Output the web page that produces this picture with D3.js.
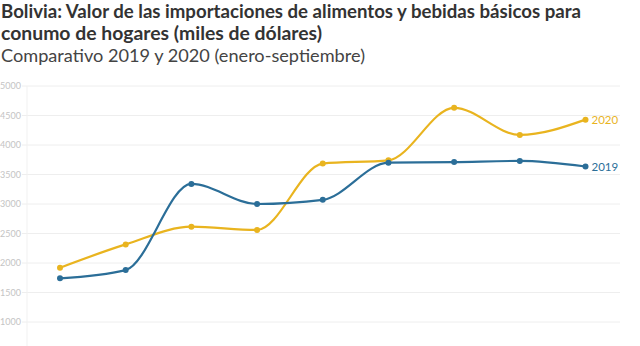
<!DOCTYPE html>
<html>
<head>
<meta charset="utf-8">
<script src="https://cdn.jsdelivr.net/npm/d3@7"></script>
<style>
  body { margin: 0; background: #fff; font-family: "Source Sans Pro", Lato, "Noto Sans", sans-serif; }
  #chart { width: 640px; height: 346px; overflow: hidden; }
</style>
</head>
<body>
<div id="chart"></div>
<script>
var months = ["ene", "feb", "mar", "abr", "may", "jun", "jul", "ago", "sep"]
var values2019 = [1740, 1880, 3340, 3000, 3070, 3700, 3710, 3730, 3635]
var values2020 = [1920, 2315, 2615, 2560, 3685, 3740, 4630, 4170, 4430]
var yTicks = [1000, 1500, 2000, 2500, 3000, 3500, 4000, 4500, 5000]

var width = 640, height = 346

var svg = d3.select("#chart").append("svg")
    .attr("width", width)
    .attr("height", height)

// titles
svg.append("text").attr("x", 1).attr("y", 18)
    .attr("font-size", 18.5).attr("font-weight", 700).attr("fill", "#333")
    .attr("textLength", 580).attr("lengthAdjust", "spacingAndGlyphs")
    .text("Bolivia: Valor de las importaciones de alimentos y bebidas básicos para")
svg.append("text").attr("x", 1).attr("y", 40)
    .attr("font-size", 18.5).attr("font-weight", 700).attr("fill", "#333")
    .attr("textLength", 321).attr("lengthAdjust", "spacingAndGlyphs")
    .text("conumo de hogares (miles de dólares)")
svg.append("text").attr("x", 1).attr("y", 62)
    .attr("font-size", 17.5).attr("fill", "#444")
    .attr("textLength", 364).attr("lengthAdjust", "spacingAndGlyphs")
    .text("Comparativo 2019 y 2020 (enero-septiembre)")

var x = d3.scalePoint()
    .domain(months)
    .range([60, 585.5])

var y = d3.scaleLinear()
    .domain([1000, 5000])
    .range([322, 86])

// grid
var grid = svg.append("g")
grid.selectAll("line").data(yTicks).enter().append("line")
    .attr("x1", 22).attr("x2", 620)
    .attr("y1", function(d){ return y(d) }).attr("y2", function(d){ return y(d) })
    .attr("stroke", "#eee").attr("stroke-width", 1)
grid.append("line")
    .attr("x1", 27).attr("x2", 27).attr("y1", 86).attr("y2", height)
    .attr("stroke", "#f1f1f1")

var yAxis = svg.append("g")
    .attr("transform", "translate(21,0)")
    .call(d3.axisLeft(y).tickValues(yTicks).tickFormat(d3.format("d")).tickSize(0).tickPadding(0))
yAxis.select(".domain").remove()
yAxis.selectAll("text")
    .attr("fill", "#c4c4c4").attr("font-size", 9)
    .attr("font-family", "\"Source Sans Pro\", Lato, sans-serif")

var line = d3.line()
    .x(function(d, i){ return x(months[i]) })
    .y(function(d){ return y(d) })
    .curve(d3.curveMonotoneX)

var series = [
  { name: "2020", values: values2020, color: "#e9b41f" },
  { name: "2019", values: values2019, color: "#2b6e98" }
]

series.forEach(function(s){
  var g = svg.append("g")
  g.append("path")
      .datum(s.values)
      .attr("d", line)
      .attr("fill", "none")
      .attr("stroke", s.color)
      .attr("stroke-width", 2.2)
  g.selectAll("circle").data(s.values).enter().append("circle")
      .attr("cx", function(d, i){ return x(months[i]) })
      .attr("cy", function(d){ return y(d) })
      .attr("r", 3)
      .attr("fill", s.color)
  var last = s.values[s.values.length - 1]
  g.append("text")
      .attr("x", x(months[months.length - 1]) + 6)
      .attr("y", y(last))
      .attr("dy", "0.35em")
      .attr("font-size", 11.5)
      .attr("fill", s.color)
      .text(s.name)
})
</script>
</body>
</html>
